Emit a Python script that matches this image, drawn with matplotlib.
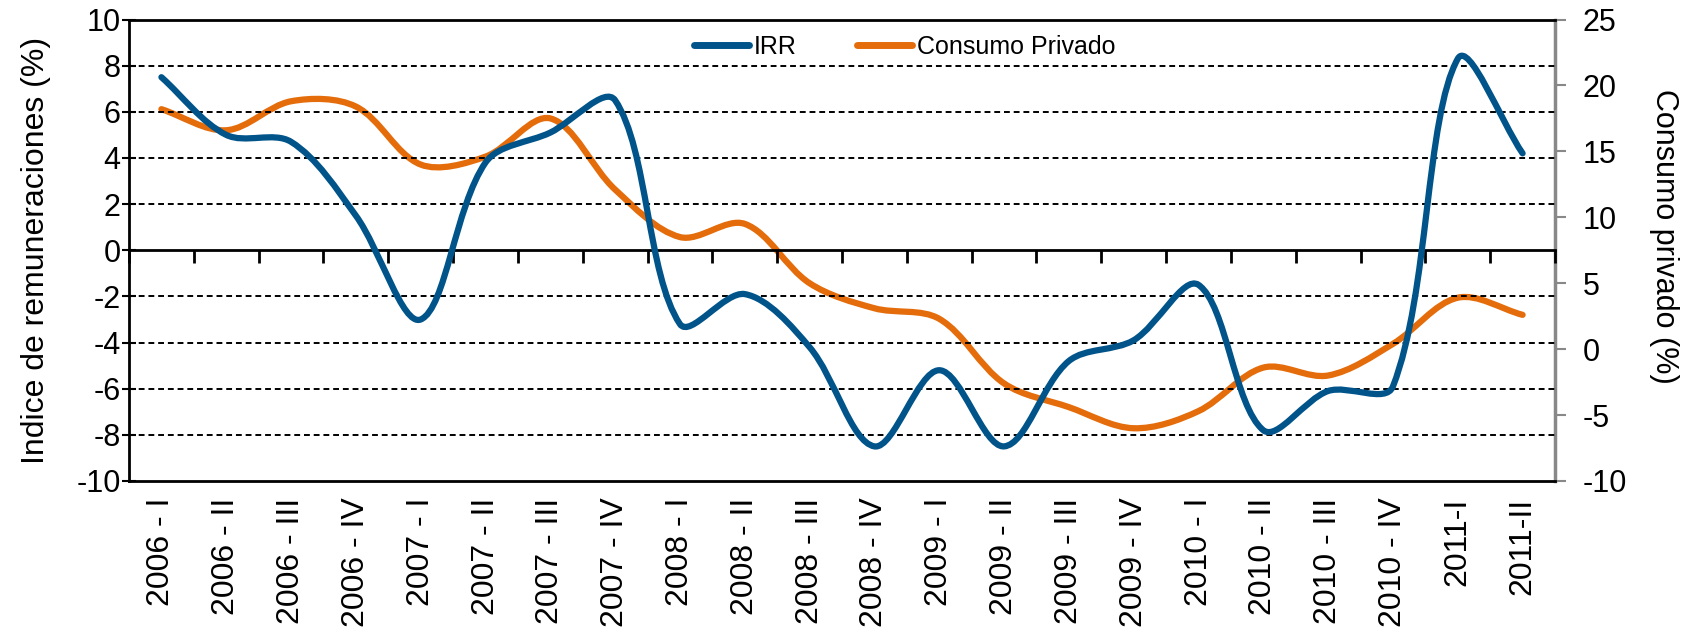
import numpy as np
import matplotlib
matplotlib.use("Agg")
import matplotlib.pyplot as plt
from matplotlib.path import Path
from matplotlib.patches import PathPatch
from matplotlib.lines import Line2D

categories = ["2006 - I", "2006 - II", "2006 - III", "2006 - IV",
              "2007 - I", "2007 - II", "2007 - III", "2007 - IV",
              "2008 - I", "2008 - II", "2008 - III", "2008 - IV",
              "2009 - I", "2009 - II", "2009 - III", "2009 - IV",
              "2010 - I", "2010 - II", "2010 - III", "2010 - IV",
              "2011-I", "2011-II"]
irr = [7.5, 5.0, 4.7, 1.5, -3.0, 3.8, 5.1, 6.5, -3.2, -1.9, -4.2, -8.5,
       -5.2, -8.5, -4.8, -3.9, -1.5, -7.8, -6.1, -5.9, 8.3, 4.2]
consumo = [18.2, 16.6, 18.8, 18.4, 14.0, 14.6, 17.5, 12.1, 8.5, 9.5, 5.0, 3.1,
           2.3, -2.6, -4.4, -6.0, -4.7, -1.4, -2.0, 0.4, 3.9, 2.6]

BLUE = "#00548A"
ORANGE = "#E46C0A"
FONT = "Liberation Sans"
plt.rcParams['font.family'] = [FONT, 'DejaVu Sans']
plt.rcParams['axes.unicode_minus'] = False


def smooth_path(axis, xs, ys):
    """Smoothed line (cubic Bezier through the points), built in display space."""
    pts = axis.transData.transform(np.column_stack([xs, ys]).astype(float))
    n = len(pts)
    verts = [pts[0]]
    codes = [Path.MOVETO]
    for i in range(n - 1):
        p0 = pts[i - 1] if i > 0 else pts[i]
        p1 = pts[i]
        p2 = pts[i + 1]
        p3 = pts[i + 2] if i + 2 < n else pts[i + 1]
        d01 = np.hypot(*(p1 - p0))
        d12 = np.hypot(*(p2 - p1))
        d23 = np.hypot(*(p3 - p2))
        f1 = d12 / (d01 + d12) if d01 + d12 > 0 else 0.5
        f2 = d12 / (d12 + d23) if d12 + d23 > 0 else 0.5
        c1 = p1 + (p2 - p0) * f1 / 3.0
        c2 = p2 - (p3 - p1) * f2 / 3.0
        verts += [c1, c2, p2]
        codes += [Path.CURVE4] * 3
    verts = axis.transData.inverted().transform(np.array(verts))
    return Path(verts, codes)


fig = plt.figure(figsize=(16.94, 6.42), dpi=100)
ax = fig.add_axes([0.07615, 0.2508, 0.8418, 0.7188])
ax2 = ax.twinx()

x = np.arange(len(categories))
ax.set_xlim(-0.5, len(categories) - 0.5)
ax.set_ylim(-10, 10)
ax2.set_ylim(-10, 25)

# grid
for v in np.arange(-8, 10, 2):
    if v != 0:
        ax.axhline(v, color="black", lw=1.4, ls=(0, (3, 2)), zorder=1)

# zero axis with category boundary ticks
ax.spines['bottom'].set_position(('data', 0))
ax.spines['bottom'].set_linewidth(2)
ax.set_xticks(np.arange(len(categories) + 1) - 0.5)
ax.tick_params(axis='x', direction='out', length=9, width=2, labelbottom=False)

# category labels along the bottom border
sec = ax.secondary_xaxis('bottom')
sec.set_xticks(x)
sec.set_xticklabels(categories, rotation=90, fontsize=23, family=FONT)
sec.tick_params(axis='x', length=0, pad=12)
sec.spines['bottom'].set_linewidth(2)

# left axis
ax.set_yticks(np.arange(-10, 11, 2))
ax.tick_params(axis='y', direction='inout', length=10, width=1.5, labelsize=22, pad=1)
ax.spines['left'].set_linewidth(2)
ax.spines['top'].set_linewidth(2)
ax.spines['right'].set_visible(False)
ax.set_ylabel("Indice de remuneraciones (%)", fontsize=23)
ax.yaxis.set_label_coords(-0.055, 0.5)

# right axis
ax2.set_yticks(np.arange(-10, 26, 5))
ax2.tick_params(axis='y', direction='out', length=8, width=1.5, colors="#888888",
                labelcolor="black", labelsize=22, pad=12)
for s in ['left', 'top', 'bottom']:
    ax2.spines[s].set_visible(False)
ax2.spines['right'].set_color("#888888")
ax2.spines['right'].set_linewidth(2.5)
ax2.set_ylabel("Consumo privado (%)", fontsize=22, rotation=270, va='bottom')
ax2.yaxis.set_label_coords(1.066, 0.53)

# series
ax.add_patch(PathPatch(smooth_path(ax, x, irr), facecolor='none', edgecolor=BLUE,
                       lw=4.5, capstyle='round', joinstyle='round', zorder=3))
ax2.add_patch(PathPatch(smooth_path(ax2, x, consumo), facecolor='none', edgecolor=ORANGE,
                        lw=4.5, capstyle='round', joinstyle='round', zorder=3))
ax.set_zorder(ax2.get_zorder() + 1)
ax.patch.set_visible(False)

handles = [Line2D([], [], color=BLUE, lw=5, solid_capstyle='round'),
           Line2D([], [], color=ORANGE, lw=5, solid_capstyle='round')]
ax.legend(handles, ["IRR", "Consumo Privado"], loc='center', bbox_to_anchor=(0.544, 0.941),
          ncol=2, frameon=False, fontsize=18, handlelength=2.2, handletextpad=0.2,
          columnspacing=2.4)

fig.savefig("out.png", dpi=100)
